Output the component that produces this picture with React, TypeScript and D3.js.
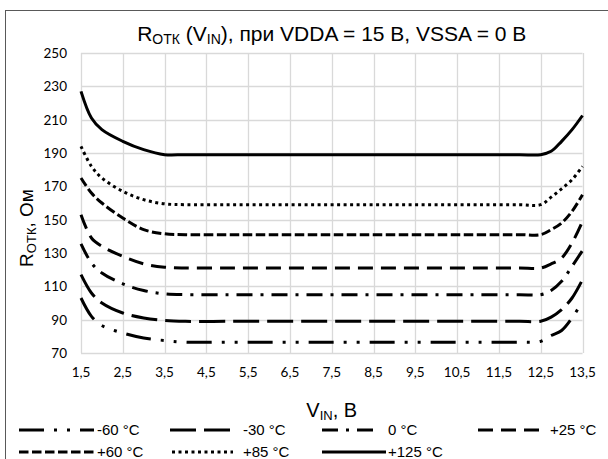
import React, { Component } from "react";
import * as d3 from "d3";

// R_OTK vs V_IN, 7 temperatures
const vin = [1.5, 1.75, 2, 2.5, 3, 3.5, 4, 5, 6, 7, 8, 9, 10, 11, 12, 12.5, 12.75, 13, 13.25, 13.5];

const rM60 = [103, 92, 86.5, 82, 79, 77.5, 76.5, 76.5, 76.5, 76.5, 76.5, 76.5, 76.5, 76.5, 76.5, 77, 80.5, 83.5, 91, 101];
const rM30 = [117, 106, 100, 94, 91, 89.5, 89, 89, 89, 89, 89, 89, 89, 89, 89, 89, 91.5, 96, 103, 114];
const r0 = [135.5, 124, 118, 111.5, 107.5, 105.5, 105, 105, 105, 105, 105, 105, 105, 105, 105, 105, 107.5, 113, 122, 131.5];
const rP25 = [153, 139, 134, 128, 123.5, 121.5, 121, 121, 121, 121, 121, 121, 121, 121, 121, 121, 123.5, 127, 136, 149];
const rP60 = [175, 166, 160, 151, 144, 141.5, 141, 141, 141, 141, 141, 141, 141, 141, 141, 141, 144, 148, 155, 165];
const rP85 = [194, 182, 175, 167, 162, 159.5, 159, 159, 159, 159, 159, 159, 159, 159, 159, 159, 163.5, 168.5, 174, 182];
const rP125 = [227, 211, 204, 197, 192, 189, 189, 189, 189, 189, 189, 189, 189, 189, 189, 189, 191, 197, 204, 212.5];

const seriesNames = ["-60 °C", "-30 °C", "0 °C", "+25 °C", "+60 °C", "+85 °C", "+125 °C"];
const seriesValues = [rM60, rM30, r0, rP25, rP60, rP85, rP125];

const xTicks = [1.5, 2.5, 3.5, 4.5, 5.5, 6.5, 7.5, 8.5, 9.5, 10.5, 11.5, 12.5, 13.5];
const yTicks = [70, 90, 110, 130, 150, 170, 190, 210, 230, 250];

const dashes = ["25 10 3 10 3 10", "26 8", "16 8 3 8", "15 8", "9.5 3.5", "3 3.5", null];

// legend placement: [sample x1, sample x2, text x, baseline]
const legendPos = [
  [19, 94, 97, 435],
  [170, 236, 243, 435],
  [322, 378, 388, 435],
  [478, 545, 550, 435],
  [19, 94, 97, 457],
  [172, 233, 243, 457],
  [322, 386, 388, 457],
];

class App extends Component {
  componentDidMount() {
    const width = 608;
    const height = 459;
    const left = 81, right = 582.5, top = 53, bottom = 353;
    const font = "'Liberation Sans', Arial, sans-serif";

    const svg = d3.select(".chart_svg")
      .attr("width", width)
      .attr("height", height)
      .style("position", "absolute")
      .style("left", "0px")
      .style("top", "0px")
      .style("background", "#fff");
    svg.selectAll("*").remove();

    const x = d3.scaleLinear().domain([1.5, 13.5]).range([left, right]);
    const y = d3.scaleLinear().domain([70, 250]).range([bottom, top]);

    // chart area border
    svg.append("rect")
      .attr("x", 5.5).attr("y", 10.5)
      .attr("width", 620).attr("height", 470)
      .attr("fill", "none").attr("stroke", "#595959").attr("stroke-width", 1);

    // grid
    svg.append("g").selectAll("line").data(yTicks).join("line")
      .attr("x1", left).attr("x2", right)
      .attr("y1", d => Math.round(y(d)) + 0.5).attr("y2", d => Math.round(y(d)) + 0.5)
      .attr("stroke", "#d9d9d9").attr("stroke-width", 1.3);
    svg.append("g").selectAll("line").data(xTicks).join("line")
      .attr("y1", top).attr("y2", bottom)
      .attr("x1", d => Math.round(x(d)) + 0.5).attr("x2", d => Math.round(x(d)) + 0.5)
      .attr("stroke", "#d9d9d9").attr("stroke-width", 1.3);

    // tick labels
    const fmt = (d: number) => String(d).replace(".", ",");
    svg.append("g").selectAll("text").data(yTicks).join("text")
      .attr("x", 67).attr("y", d => y(d) + 5)
      .attr("text-anchor", "end")
      .style("font-family", "Lato, sans-serif").style("font-size", "13.5px").attr("fill", "#000")
      .text(d => d);
    svg.append("g").selectAll("text").data(xTicks).join("text")
      .attr("x", d => x(d)).attr("y", 377)
      .attr("text-anchor", "middle")
      .style("font-family", "Lato, sans-serif").style("font-size", "13.5px").attr("fill", "#000")
      .text(d => fmt(d));

    // curves
    const line = d3.line<number>()
      .x((d, i) => x(vin[i]))
      .y(d => y(d))
      .curve(d3.curveCatmullRom.alpha(0.5));
    svg.append("g").selectAll("path").data(seriesValues).join("path")
      .attr("d", d => line(d))
      .attr("fill", "none").attr("stroke", "#000").attr("stroke-width", 3)
      .attr("stroke-dasharray", (d, i) => dashes[i] || null);

    // title
    const title = svg.append("text")
      .attr("x", (left + right) / 2).attr("y", 41)
      .attr("text-anchor", "middle")
      .style("font-family", font).style("font-size", "21px");
    title.append("tspan").text("R");
    title.append("tspan").attr("dy", 3).style("font-size", "14px").text("ОТК");
    title.append("tspan").attr("dy", -3).text(" (V");
    title.append("tspan").attr("dy", 3).style("font-size", "14px").text("IN");
    title.append("tspan").attr("dy", -3).text("), при VDDA = 15 В, VSSA = 0 В");

    // x-axis title
    const xt = svg.append("text")
      .attr("x", (left + right) / 2).attr("y", 417)
      .attr("text-anchor", "middle")
      .style("font-family", font).style("font-size", "20px");
    xt.append("tspan").text("V");
    xt.append("tspan").attr("dy", 3).style("font-size", "13px").text("IN");
    xt.append("tspan").attr("dy", -3).text(", В");

    // y-axis title
    const yt = svg.append("text")
      .attr("transform", "translate(33,228) rotate(-90)")
      .attr("text-anchor", "middle")
      .style("font-family", font).style("font-size", "19px");
    yt.append("tspan").text("R");
    yt.append("tspan").attr("dy", 3).style("font-size", "13px").text("ОТК");
    yt.append("tspan").attr("dy", -3).text(", Ом");

    // legend
    const lg = svg.append("g").selectAll("g").data(seriesNames).join("g");
    lg.append("line")
      .attr("x1", (d, i) => legendPos[i][0]).attr("x2", (d, i) => legendPos[i][1])
      .attr("y1", (d, i) => legendPos[i][3] - 5).attr("y2", (d, i) => legendPos[i][3] - 5)
      .attr("stroke", "#000").attr("stroke-width", 3)
      .attr("stroke-dasharray", (d, i) => dashes[i] || null);
    lg.append("text")
      .attr("x", (d, i) => legendPos[i][2]).attr("y", (d, i) => legendPos[i][3])
      .style("font-family", font).style("font-size", "15px")
      .text(d => d);
  }

  componentDidUpdate() {
    this.componentDidMount();
  }

  render() {
    return <svg className="chart_svg"></svg>;
  }
}

export default App;
